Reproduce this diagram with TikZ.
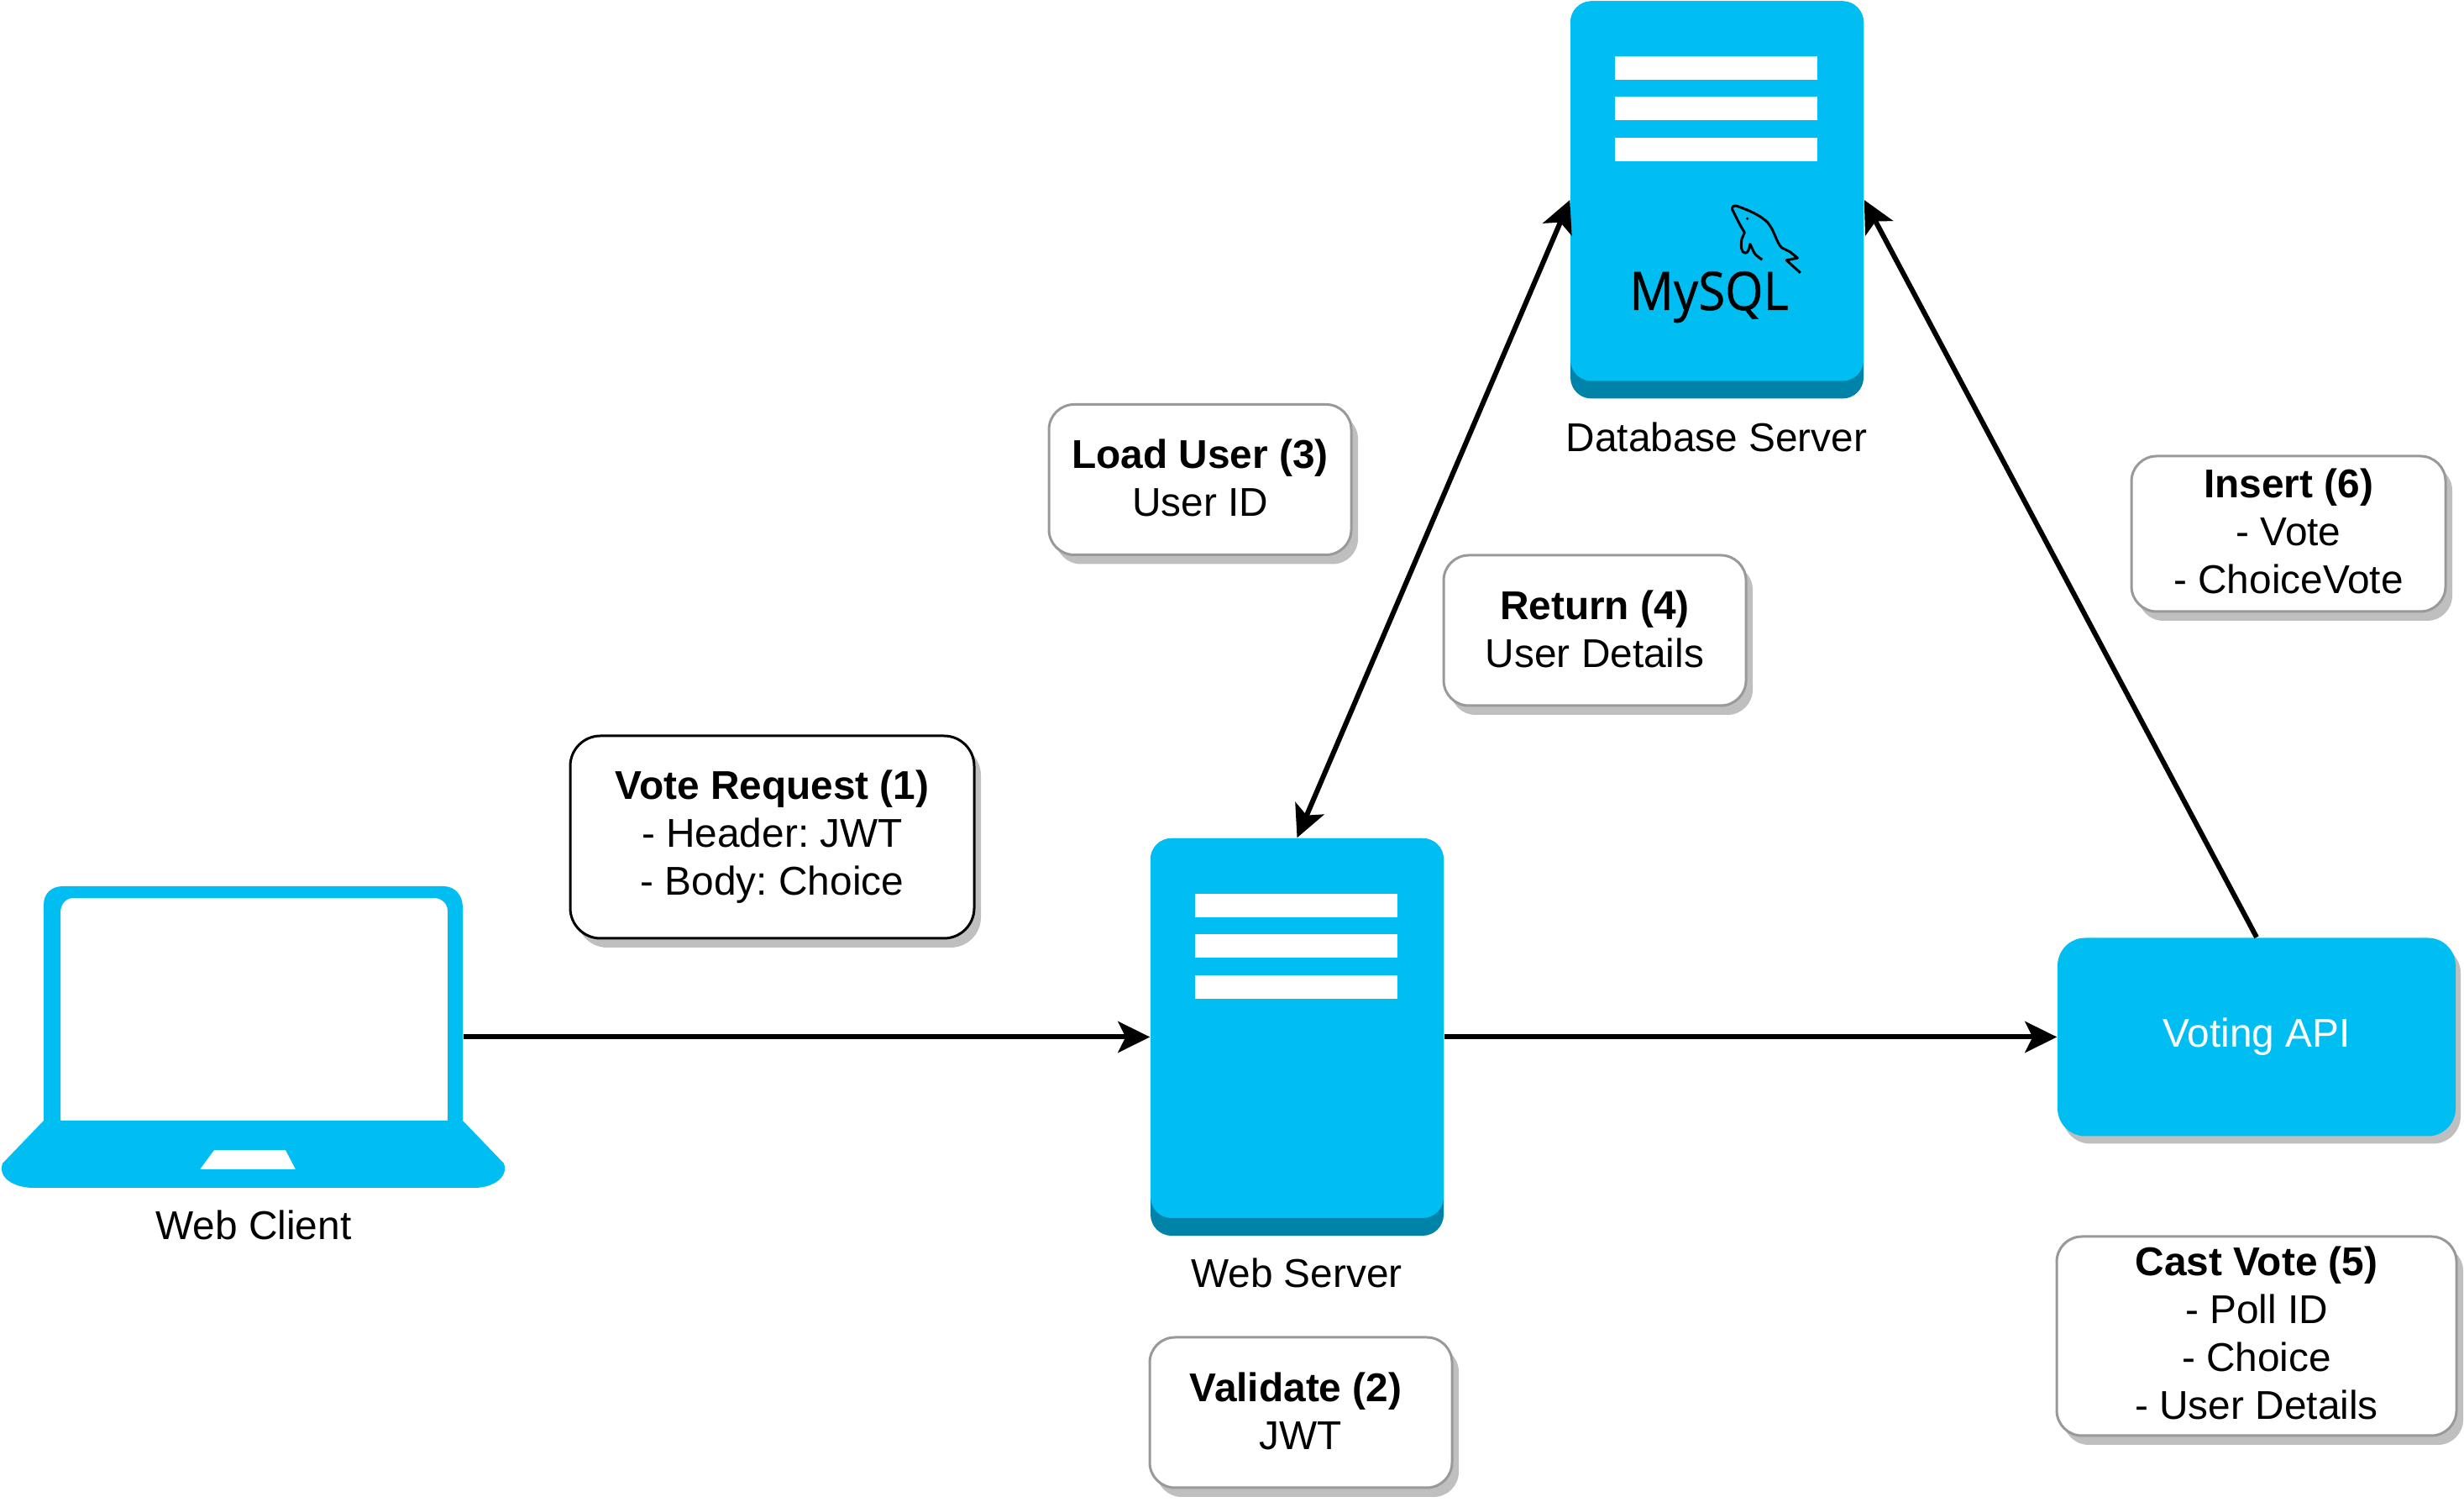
\documentclass[tikz,border=0pt]{standalone}
\usepackage{fontspec}
\setmainfont{Liberation Sans}
\newfontfamily\logofont[FakeBold=0.8,FakeStretch=0.92]{Open Sans}
\usepackage{xcolor}
\usetikzlibrary{arrows.meta,positioning,shadows}
\definecolor{serverblue}{HTML}{00BEF2}
\definecolor{serverdark}{HTML}{0083A8}
\definecolor{notegray}{HTML}{999999}
\definecolor{shadowgray}{HTML}{BFBFBF}
\tikzset{
  labeltext/.style={font=\fontsize{13.6}{16.2}\selectfont\frenchspacing, align=center, inner sep=0pt},
  notebox/.style={labeltext, rectangle, rounded corners=0.3cm, fill=white, draw=notegray, line width=0.03cm,
    drop shadow={shadow xshift=0.08cm, shadow yshift=-0.11cm, fill=shadowgray, opacity=1}},
  flow/.style={line width=0.06cm, -{Stealth[length=0.38cm,width=0.37cm,inset=0.09cm]}},
  flowboth/.style={line width=0.06cm, {Stealth[length=0.38cm,width=0.37cm,inset=0.09cm]}-{Stealth[length=0.38cm,width=0.37cm,inset=0.09cm]}},
}

\begin{document}
\begin{tikzpicture}
\useasboundingbox (0,0) rectangle (29.34,17.88);

\fill[serverblue, even odd rule]
  (0.52,4.54) -- (0.52,7.11) .. controls (0.52,7.25) and (0.62,7.33) .. (0.75,7.33)
  -- (5.28,7.33) .. controls (5.42,7.33) and (5.51,7.22) .. (5.51,7.08)
  -- (5.51,4.54) -- (6.00,4.03) .. controls (6.06,3.85) and (5.85,3.74) .. (5.65,3.74)
  -- (0.40,3.74) .. controls (0.18,3.74) and (-0.03,3.85) .. (0.03,4.03) -- cycle
  (0.72,4.54) -- (5.33,4.54) -- (5.33,7.04) .. controls (5.33,7.12) and (5.26,7.19) .. (5.17,7.19)
  -- (0.87,7.19) .. controls (0.79,7.19) and (0.72,7.12) .. (0.72,7.02) -- cycle
  (2.55,4.19) -- (3.40,4.19) -- (3.52,3.96) -- (2.38,3.96) -- cycle;
\node[minimum width=4.99cm, minimum height=3.59cm, inner sep=0pt] (webclient) at (3.015,5.535) {};
\node[labeltext] (webclientlabel) at (3.02,3.30) {Web Client};

\foreach \cx/\cy/\srv in {15.445/5.535/webserver, 20.445/15.50/dbserver} {
  \begin{scope}[shift={(\cx,\cy)}]
    \node[fill=serverdark, rounded corners=0.25cm, minimum width=3.49cm, minimum height=4.73cm, inner sep=0pt] (\srv) at (0,0) {};
    \fill[serverblue, rounded corners=0.25cm] (-1.745,-2.155) rectangle (1.745,2.365);
    \foreach \ytop in {1.705,1.225,0.735}
      \fill[white] (-1.22,\ytop) rectangle (1.19,\ytop-0.28);
  \end{scope}
}
\node[labeltext] (webserverlabel) at (15.44,2.73) {Web Server};
\node[labeltext] (dbserverlabel) at (20.44,12.68) {Database Server};

\node[font=\logofont\fontsize{18}{20}\selectfont, anchor=base, inner sep=0pt] (mysqltext) at (20.35,14.19) {MySQL};
\begin{scope}[shift={(20.40,15.58)}, x=0.00333cm, y=-0.00333cm, line width=0.03cm, line join=round]
  \draw (175,238) .. controls (160,228) and (150,220) .. (145,210) -- (132,182)
    .. controls (128,200) and (125,214) .. (115,214) .. controls (100,214) and (98,190) .. (102,165)
    -- (112,140) .. controls (95,115) and (82,85) .. (68,58) .. controls (65,48) and (75,43) .. (85,46)
    .. controls (130,62) and (170,80) .. (195,105) .. controls (220,135) and (225,175) .. (245,195)
    -- (275,210) -- (302,232) -- (262,240) -- (312,285);
  \fill (122,91) circle (5);
\end{scope}

\node[labeltext, text=white, fill=serverblue, rounded corners=0.33cm, minimum width=4.74cm, minimum height=2.36cm,
  drop shadow={shadow xshift=0.06cm, shadow yshift=-0.09cm, fill=shadowgray, opacity=1}] (votingapi) at (26.87,5.535) {Voting API};

\node[notebox, draw=black, rounded corners=0.36cm, minimum width=4.81cm, minimum height=2.41cm] (voterequest) at (9.195,7.915)
  {\textbf{Vote Request (1)}\\- Header: JWT\\- Body: Choice};
\node[notebox, minimum width=3.60cm, minimum height=1.79cm] (validate) at (15.49,1.065)
  {\textbf{Validate (2)}\hspace*{0.12cm}\\JWT\rule[-0.04cm]{0pt}{0pt}};
\node[notebox, minimum width=3.60cm, minimum height=1.79cm] (loaduser) at (14.29,12.17)
  {\textbf{Load User (3)}\\User ID\rule[-0.04cm]{0pt}{0pt}};
\node[notebox, minimum width=3.60cm, minimum height=1.79cm] (returnuser) at (18.99,10.375)
  {\textbf{Return (4)}\\User Details\rule[-0.04cm]{0pt}{0pt}};
\node[notebox, minimum width=4.76cm, minimum height=2.37cm] (castvote) at (26.87,1.975)
  {\textbf{Cast Vote (5)}\\- Poll ID\\- Choice\\- User Details\rule[-0.074cm]{0pt}{0pt}};
\node[notebox, minimum width=3.74cm, minimum height=1.85cm] (insertvote) at (27.25,11.525)
  {\textbf{Insert (6)}\\- Vote\\- ChoiceVote\rule[-0.074cm]{0pt}{0pt}};

\draw[flow] (webclient.east) -- (webserver.west);
\draw[flow] (webserver.east) -- (votingapi.west);
\draw[flowboth] (webserver.north) -- (dbserver.west);
\draw[flow] (votingapi.north) -- (dbserver.east);

\end{tikzpicture}
\end{document}
